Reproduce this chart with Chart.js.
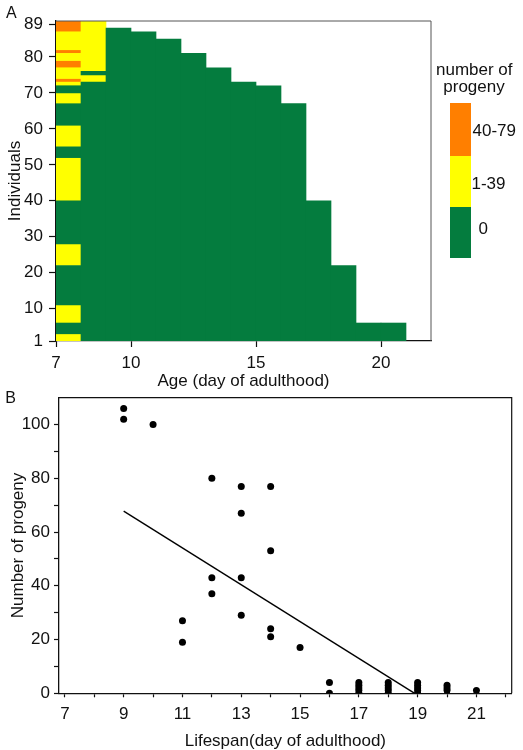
<!DOCTYPE html>
<html>
<head>
<meta charset="utf-8">
<script src="https://cdn.jsdelivr.net/npm/chart.js@4.4.1/dist/chart.umd.min.js"></script>
<style>
  html, body { margin: 0; padding: 0; background: #fff; overflow: hidden; }
  body { width: 523px; height: 750px; position: relative; font-family: 'Liberation Sans', Arial, sans-serif; color: #111; }
  canvas, .txt, .swatch { position: absolute; }
  #chartA { left: 0; top: 0; }
  #chartB { left: 0; top: 392px; }
  .txt { font-size: 17px; line-height: 17px; white-space: nowrap; }
  .panel { font-size: 16px; line-height: 16px; }
  .swatch { left: 450px; width: 21px; }
</style>
</head>
<body>
<canvas id="chartA" width="523" height="392"></canvas>
<canvas id="chartB" width="523" height="362"></canvas>

<div class="txt panel" style="left:6px; top:4.6px">A</div>
<div class="txt panel" style="left:5.2px; top:389.6px">B</div>

<!-- legend of panel A -->
<div class="txt" style="left:436px; top:60.6px; width:76px; text-align:center">number of</div>
<div class="txt" style="left:436px; top:77.9px; width:76px; text-align:center">progeny</div>
<div class="swatch" style="top:103px; height:53px; background:#ff7f00"></div>
<div class="swatch" style="top:156px; height:51px; background:#ffff00"></div>
<div class="swatch" style="top:207px; height:51px; background:#047c3e"></div>
<div class="txt" style="left:472.5px; top:121.7px">40-79</div>
<div class="txt" style="left:471.5px; top:174.7px">1-39</div>
<div class="txt" style="left:478.5px; top:219.7px">0</div>

<script>
// panel A: individuals still alive on each day of adulthood
const ageDays = [7, 8, 9, 10, 11, 12, 13, 14, 15, 16, 17, 18, 19, 20]
const aliveCount = [89, 89, 87, 86, 84, 80, 76, 72, 71, 66, 39, 21, 5, 5]
// progeny class runs from individual 1 upward: [class, count]
// class 0 = 0, 1 = 1-39, 2 = 40-79
const day7Runs = [[1, 2], [0, 3], [1, 5], [0, 11], [1, 6], [0, 12], [1, 12], [0, 3], [1, 6], [0, 6],
  [1, 3], [0, 2], [1, 1], [2, 1], [1, 3], [2, 2], [1, 2], [2, 1], [1, 5], [2, 3]]
const day8Runs = [[0, 72], [1, 2], [0, 1], [1, 14]]
const progenyClasses = ['0', '1-39', '40-79']
const classColors = ['#047c3e', '#ffff00', '#ff7f00']
const ageTicks = [7, 10, 15, 20]
const individualTicks = [1, 10, 20, 30, 40, 50, 60, 70, 80, 89]

// panel B: lifespan vs number of progeny
const lifespan = [9, 9, 10, 11, 11, 12, 12, 12, 13, 13, 13, 13, 14, 14, 14, 14, 15, 16, 16,
  17, 17, 17, 17, 17, 18, 18, 18, 18, 18, 19, 19, 19, 19, 19, 20, 20, 20, 21]
const progeny = [106, 102, 100, 27, 19, 80, 43, 37, 77, 67, 43, 29, 77, 53, 24, 21, 17, 4, 0,
  4, 3, 2, 1, 0, 4, 3, 2, 1, 0, 4, 3, 2, 1, 0, 3, 2, 1, 1]
const fitX = [9, 18.9]
const fitY = [67.8, 0]
const lifespanTicks = [7, 8, 9, 10, 11, 12, 13, 14, 15, 16, 17, 18, 19, 20, 21, 22]
const lifespanLabels = [7, 9, 11, 13, 15, 17, 19, 21]
const progenyTicks = [0, 10, 20, 30, 40, 50, 60, 70, 80, 90, 100]
const progenyLabels = [0, 20, 40, 60, 80, 100]

Chart.defaults.font.family = "'Liberation Sans', Arial, sans-serif"
Chart.defaults.font.size = 17
Chart.defaults.color = '#111'

// fix an axis box to an exact size and drop label overflow padding
function fixBox(size) {
  return scale => {
    if (scale.isHorizontal()) scale.height = size
    else scale.width = size
    scale.paddingTop = scale.paddingBottom = scale.paddingLeft = scale.paddingRight = 0
  }
}
function useTicks(values) {
  return scale => { scale.ticks = values.map(value => ({ value })) }
}
function labelOnly(values) {
  return value => values.includes(value) ? String(value) : ''
}

// top and right edges of the plot box
const frame = {
  id: 'frame',
  afterDraw(chart, args, opts) {
    const { ctx, chartArea: a } = chart
    ctx.save()
    ctx.strokeStyle = opts.color
    ctx.lineWidth = opts.width
    ctx.beginPath()
    ctx.moveTo(a.left, a.top)
    ctx.lineTo(a.right, a.top)
    ctx.lineTo(a.right, a.bottom)
    ctx.stroke()
    ctx.restore()
  }
}

// build the heatmap cells as floating bars, one dataset per progeny class
const runsByDay = { 7: day7Runs, 8: day8Runs }
const cells = progenyClasses.map(() => [])
ageDays.forEach((day, i) => {
  const runs = runsByDay[day] || [[0, aliveCount[i]]]
  let start = 1
  runs.forEach(([cls, n]) => {
    cells[cls].push({ x: day + 0.5, y: [start, start + n] })
    start += n
  })
})
const heatDatasets = progenyClasses.map((label, c) => ({
  label,
  data: cells[c],
  backgroundColor: classColors[c],
  borderWidth: 0,
  grouped: false,
  barPercentage: 1,
  categoryPercentage: 1
}))

const axisGrid = { drawOnChartArea: false, offset: false, color: '#111', tickColor: '#111', tickWidth: 1.2 }
const axisBorder = { display: true, color: '#111', width: 1.3 }

// panel A
new Chart(document.getElementById('chartA'), {
  type: 'bar',
  data: { datasets: heatDatasets },
  options: {
    responsive: false,
    animation: false,
    events: [],
    layout: { padding: { left: 0, top: 21, right: 92, bottom: 0 } },
    plugins: { legend: { display: false }, tooltip: { enabled: false }, frame: { color: '#555', width: 1 } },
    scales: {
      x: {
        type: 'linear', min: 7, max: 22, offset: false, z: 1,
        afterBuildTicks: useTicks(ageTicks),
        afterFit: fixBox(51),
        grid: { ...axisGrid, tickLength: 6 },
        border: axisBorder,
        ticks: { padding: 6.5, maxRotation: 0, autoSkip: false },
        title: { display: true, text: 'Age (day of adulthood)', padding: 0 }
      },
      y: {
        type: 'linear', min: 1, max: 90, z: 1,
        afterBuildTicks: useTicks(individualTicks),
        afterFit: fixBox(56),
        grid: { ...axisGrid, tickLength: 7 },
        border: axisBorder,
        ticks: { padding: 6, autoSkip: false },
        title: { display: true, text: 'Individuals', padding: { top: 5, bottom: 0 } }
      }
    }
  },
  plugins: [frame]
})

// panel B
new Chart(document.getElementById('chartB'), {
  type: 'scatter',
  data: {
    datasets: [{
      data: lifespan.map((x, i) => ({ x, y: progeny[i] })),
      pointRadius: 3.5,
      backgroundColor: '#000',
      borderWidth: 0,
      clip: { left: 10, top: 10, right: 10, bottom: 0 }
    }, {
      data: fitX.map((x, i) => ({ x, y: fitY[i] })),
      showLine: true,
      pointRadius: 0,
      borderColor: '#000',
      borderWidth: 1.4
    }]
  },
  options: {
    responsive: false,
    animation: false,
    events: [],
    layout: { padding: { left: 0, top: 5.7, right: 11.3, bottom: 0 } },
    plugins: { legend: { display: false }, tooltip: { enabled: false }, frame: { color: '#111', width: 1.2 } },
    scales: {
      x: {
        type: 'linear', min: 6.8, max: 22.2, z: 1,
        afterBuildTicks: useTicks(lifespanTicks),
        afterFit: fixBox(60.7),
        grid: { ...axisGrid, tickLength: 4 },
        border: axisBorder,
        ticks: { padding: 7.2, maxRotation: 0, autoSkip: false, callback: labelOnly(lifespanLabels) },
        title: { display: true, text: 'Lifespan(day of adulthood)', padding: { top: 0, bottom: 2 } }
      },
      y: {
        type: 'linear', min: 0, max: 110, z: 1,
        afterBuildTicks: useTicks(progenyTicks),
        afterFit: fixBox(59),
        grid: { ...axisGrid, tickLength: 5 },
        border: axisBorder,
        ticks: { padding: 4, autoSkip: false, callback: labelOnly(progenyLabels) },
        title: { display: true, text: 'Number of progeny', padding: { top: 8.5, bottom: 0 } }
      }
    }
  },
  plugins: [frame]
})
</script>
</body>
</html>
